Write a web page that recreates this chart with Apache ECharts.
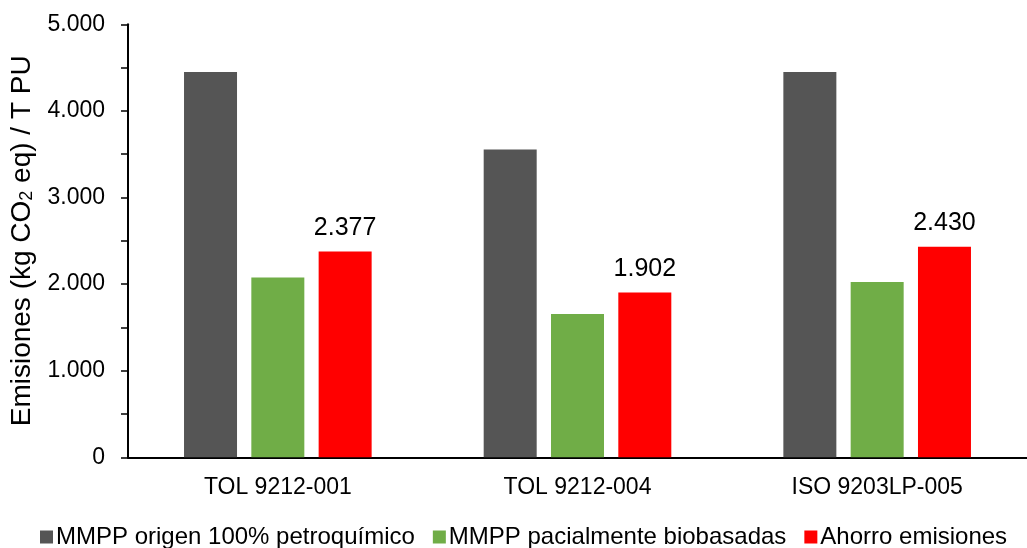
<!DOCTYPE html>
<html>
<head>
<meta charset="utf-8">
<script src="https://cdn.jsdelivr.net/npm/echarts@6/dist/echarts.min.js"></script>
<style>
  html, body { margin: 0; padding: 0; background: #fff; }
  #chart { width: 1027px; height: 548px; }
</style>
</head>
<body>
<div id="chart"></div>
<script>
// Emisiones por formulación (kg CO2 eq / T PU)
const categories = ['TOL 9212-001', 'TOL 9212-004', 'ISO 9203LP-005'];
const seriesNames = ['MMPP origen 100% petroquímico', 'MMPP pacialmente biobasadas', 'Ahorro emisiones'];
const petroquimico = [4450, 3555, 4450];
const biobasadas = [2075, 1655, 2025];
const ahorro = [2377, 1902, 2430];
const yTicks = [0, 1000, 2000, 3000, 4000, 5000];

const FONT = '"Liberation Sans", Arial, sans-serif';

// Spanish-style thousands separator: 2377 -> "2.377"
function fmt(v) {
  return String(Math.round(v)).replace(/\B(?=(\d{3})+(?!\d))/g, '.');
}

const chart = echarts.init(document.getElementById('chart'), null, { renderer: 'canvas' });

chart.setOption({
  animation: false,
  backgroundColor: '#ffffff',
  textStyle: { fontFamily: FONT },
  grid: { left: 126.5, top: 24.3, width: 915, height: 433, containLabel: false },
  legend: {
    left: 40,
    top: 523,
    padding: 0,
    itemWidth: 13,
    itemHeight: 13,
    itemGap: 18,
    icon: 'rect',
    textStyle: { fontFamily: FONT, fontSize: 24, lineHeight: 28, color: '#000', padding: [0, 0, 0, -2] },
    data: seriesNames
  },
  xAxis: {
    type: 'category',
    data: categories,
    axisLine: { show: true, lineStyle: { color: '#000', width: 2 } },
    axisTick: { show: false },
    axisLabel: { color: '#000', fontFamily: FONT, fontSize: 23, margin: 19 },
    splitLine: { show: false }
  },
  yAxis: {
    type: 'value',
    min: yTicks[0],
    max: yTicks[yTicks.length - 1],
    interval: 1000,
    name: 'Emisiones (kg CO{sub|2} eq) / T PU',
    nameLocation: 'middle',
    nameGap: 92,
    nameRotate: 90,
    nameTextStyle: {
      color: '#000',
      fontFamily: FONT,
      fontSize: 28,
      rich: {
        sub: { fontFamily: FONT, fontSize: 18, color: '#000', verticalAlign: 'bottom', padding: [10, 0, 0, 0] }
      }
    },
    axisLine: { show: true, lineStyle: { color: '#000', width: 2 } },
    axisTick: { show: true, length: 7, lineStyle: { color: '#000', width: 1.5 } },
    minorTick: { show: true, splitNumber: 2, length: 7, lineStyle: { color: '#000', width: 1.5 } },
    axisLabel: { color: '#000', fontFamily: FONT, fontSize: 23, margin: 23, formatter: v => fmt(v) },
    splitLine: { show: false }
  },
  series: [
    {
      name: seriesNames[0],
      type: 'bar',
      data: petroquimico,
      barWidth: 53,
      barGap: '27%',
      itemStyle: { color: '#555555' }
    },
    {
      name: seriesNames[1],
      type: 'bar',
      data: biobasadas,
      barWidth: 53,
      barGap: '27%',
      itemStyle: { color: '#70AD47' }
    },
    {
      name: seriesNames[2],
      type: 'bar',
      data: ahorro,
      barWidth: 53,
      barGap: '27%',
      itemStyle: { color: '#FF0000' },
      label: {
        show: true,
        position: 'top',
        distance: 11,
        color: '#000',
        fontFamily: FONT,
        fontSize: 25,
        formatter: p => fmt(p.value)
      }
    }
  ]
});
</script>
</body>
</html>
